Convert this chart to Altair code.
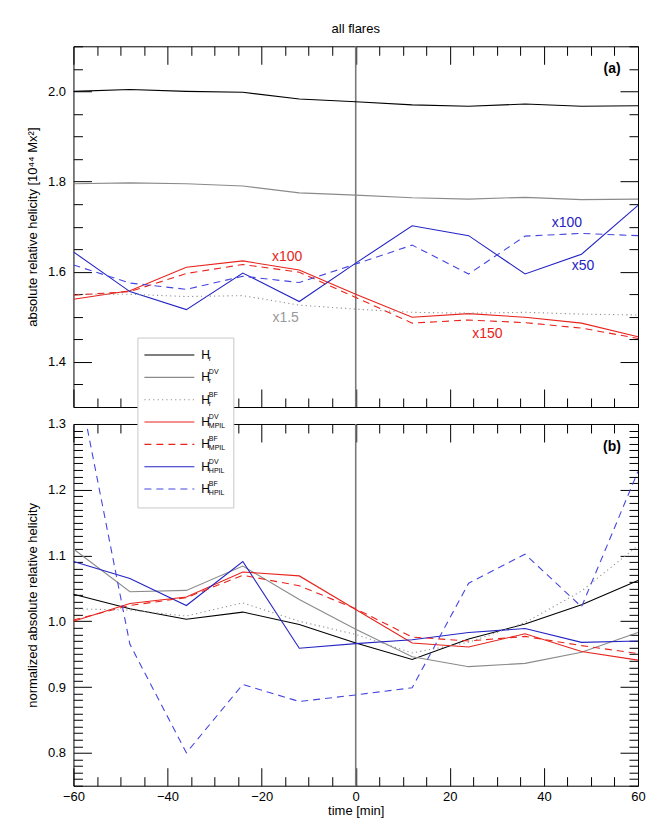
import altair as alt
import pandas as pd

FONT = "Liberation Sans"

# ---------------- data ----------------
time = [-60, -48, -36, -24, -12, 0, 12, 24, 36, 48, 60]

# panel (a): absolute relative helicity [1e44 Mx^2] (some series scaled as annotated)
a_hr      = [2.000, 2.004, 2.000, 1.998, 1.983, 1.977, 1.970, 1.967, 1.972, 1.967, 1.968]
a_hr_dv   = [1.795, 1.797, 1.795, 1.790, 1.775, 1.770, 1.764, 1.761, 1.765, 1.760, 1.761]
a_hr_bf   = [1.550, 1.550, 1.545, 1.547, 1.526, 1.517, 1.510, 1.508, 1.510, 1.506, 1.504]
a_mpil_dv = [1.539, 1.558, 1.610, 1.624, 1.604, 1.550, 1.499, 1.507, 1.499, 1.486, 1.456]
a_mpil_bf = [1.548, 1.556, 1.596, 1.616, 1.599, 1.543, 1.486, 1.493, 1.487, 1.475, 1.452]
a_hpil_dv = [1.644, 1.556, 1.516, 1.597, 1.534, 1.619, 1.702, 1.680, 1.595, 1.639, 1.747]
a_hpil_bf = [1.615, 1.575, 1.561, 1.590, 1.576, 1.617, 1.659, 1.595, 1.679, 1.685, 1.680]

# panel (b): normalized absolute relative helicity
b_hr      = [1.041, 1.019, 1.003, 1.014, 0.995, 0.967, 0.942, 0.973, 0.996, 1.025, 1.062]
b_hr_dv   = [1.110, 1.045, 1.047, 1.084, 1.033, 0.988, 0.946, 0.931, 0.936, 0.953, 0.983]
b_hr_bf   = [1.019, 1.017, 1.008, 1.028, 1.000, 0.980, 0.952, 0.968, 0.998, 1.046, 1.115]
b_mpil_dv = [1.000, 1.027, 1.037, 1.075, 1.069, 1.018, 0.967, 0.961, 0.981, 0.954, 0.941]
b_mpil_bf = [1.002, 1.024, 1.036, 1.070, 1.054, 1.019, 0.976, 0.970, 0.977, 0.963, 0.951]
b_hpil_dv = [1.091, 1.065, 1.024, 1.091, 0.959, 0.966, 0.972, 0.983, 0.989, 0.968, 0.970]
b_hpil_bf = [1.400, 0.965, 0.800, 0.904, 0.878, 0.888, 0.899, 1.058, 1.102, 1.022, 1.228]

series_keys = ["hr", "hr_dv", "hr_bf", "mpil_dv", "mpil_bf", "hpil_dv", "hpil_bf"]
legend_sup = ["", "DV", "BF", "DV", "BF", "DV", "BF"]
legend_sub = ["r", "r", "r", "MPIL", "MPIL", "HPIL", "HPIL"]

annot_text = ["x100", "x1.5", "x150", "x100", "x50"]
annot_time = [-14.6, -14.9, 28.0, 44.9, 48.3]
annot_value = [1.632, 1.498, 1.463, 1.708, 1.612]
annot_series = ["mpil_dv", "hr_bf", "mpil_dv", "hpil_bf", "hpil_dv"]

# ---------------- styles ----------------
RED = "#e8231c"
BLUE = "#2424c4"
BLUE_D = "#4646e0"
GRAY = "#8a8a8a"
COLOR = {"hr": "#000000", "hr_dv": GRAY, "hr_bf": "#909090", "mpil_dv": RED,
         "mpil_bf": RED, "hpil_dv": BLUE, "hpil_bf": BLUE_D}
KIND = {"hr": "solid", "hr_dv": "solid", "hr_bf": "dotted", "mpil_dv": "solid",
        "mpil_bf": "dashed", "hpil_dv": "solid", "hpil_bf": "dashed"}
DASH = {"dashed": [7, 5], "dotted": [1.2, 3.2]}
ANNOT_COLOR = {"mpil_dv": RED, "hr_bf": "#999999", "hpil_bf": BLUE, "hpil_dv": BLUE}

W = 565
HA = 361
HB = 362


def long_df(cols):
    rows = []
    for key, vals in zip(series_keys, cols):
        for t, v in zip(time, vals):
            rows.append(dict(t=t, v=v, s=key, c=COLOR[key], k=KIND[key]))
    return pd.DataFrame(rows)


def tick_axis(orient, offset, values, test):
    return alt.Axis(orient=orient, offset=offset, values=values, labels=False,
                    title=None, grid=False, domain=True, domainColor="black",
                    domainWidth=1, ticks=True, tickColor="black", tickWidth=1,
                    tickSize={"condition": {"test": test, "value": 18}, "value": 9})


XTEST = "datum.value % 20 === 0"


def make_panel(df, ydom, ystep, ylabels, ytest, ytitle, H, tag, bottom_labels, extra=None):
    xs = alt.Scale(domain=[-60, 60], nice=False, zero=False)
    ys = alt.Scale(domain=ydom, nice=False, zero=False)
    xticks = list(range(-60, 61, 5))
    n = int(round((ydom[1] - ydom[0]) / ystep))
    yticks = [round(ydom[0] + i * ystep, 4) for i in range(n + 1)]

    if bottom_labels:
        x_lab = alt.Axis(orient="bottom", values=list(range(-60, 61, 20)), format="d",
                         ticks=False, tickSize=0, domain=False, grid=False,
                         labelFlush=False, labelOverlap=False, labelPadding=5,
                         labelFontSize=13, title="time [min]", titleFontSize=13,
                         titleFontWeight="normal", titlePadding=1)
    else:
        x_lab = None
    y_lab = alt.Axis(orient="left", values=ylabels, format=".1f", ticks=False,
                     tickSize=0, domain=False, grid=False, labelPadding=8,
                     labelFontSize=13, labelOverlap=False, title=ytitle,
                     titleFontSize=13, titleFontWeight="normal", titlePadding=8)

    base = alt.Chart(df)
    color = alt.Color("c:N", scale=None)

    rule0 = alt.Chart(pd.DataFrame({"t": [0]})).mark_rule(
        color="#7a7a7a", strokeWidth=1.6).encode(x=alt.X("t:Q", scale=xs, axis=None))

    solid = base.transform_filter("datum.k == 'solid'").mark_line(
        strokeWidth=1.1, clip=True).encode(
        x=alt.X("t:Q", scale=xs, axis=x_lab),
        y=alt.Y("v:Q", scale=ys, axis=y_lab),
        color=color, detail="s:N")
    dashed = base.transform_filter("datum.k == 'dashed'").mark_line(
        strokeWidth=1.1, strokeDash=DASH["dashed"], clip=True).encode(
        x=alt.X("t:Q", scale=xs, axis=tick_axis("top", -H, xticks, XTEST)),
        y=alt.Y("v:Q", scale=ys, axis=tick_axis("right", -W, yticks, ytest)),
        color=color, detail="s:N")
    dotted = base.transform_filter("datum.k == 'dotted'").mark_line(
        strokeWidth=1.1, strokeDash=DASH["dotted"], clip=True).encode(
        x=alt.X("t:Q", scale=xs, axis=tick_axis("bottom", -H, xticks, XTEST)),
        y=alt.Y("v:Q", scale=ys, axis=tick_axis("left", -W, yticks, ytest)),
        color=color, detail="s:N")

    label = alt.Chart(pd.DataFrame({"l": [tag]})).mark_text(
        fontWeight="bold", fontSize=14, align="center", baseline="middle").encode(
        x=alt.value(539), y=alt.value(23), text="l:N")

    layers = [rule0, solid, dashed, dotted, label]
    if extra is not None:
        layers += extra(xs, ys)
    return alt.layer(*layers).resolve_axis(x="independent", y="independent").properties(
        width=W, height=H)


def annotations(xs, ys):
    adf = pd.DataFrame({"t": annot_time, "v": annot_value, "txt": annot_text,
                        "c": [ANNOT_COLOR[s] for s in annot_series]})
    return [alt.Chart(adf).mark_text(fontSize=14, align="center", baseline="middle").encode(
        x=alt.X("t:Q", scale=xs, axis=None), y=alt.Y("v:Q", scale=ys, axis=None),
        text="txt:N", color=alt.Color("c:N", scale=None))]


def legend(xs, ys):
    ldf = pd.DataFrame({"i": list(range(len(series_keys))), "s": series_keys,
                        "sup": legend_sup, "sub": legend_sub,
                        "c": [COLOR[s] for s in series_keys],
                        "k": [KIND[s] for s in series_keys]})
    lb = alt.Chart(ldf).transform_calculate(py="-69 + datum.i * 22.35")
    box = alt.Chart(pd.DataFrame({"a": [0]})).mark_rect(
        fill="white", stroke="#c8c8c8", strokeWidth=1).encode(
        x=alt.value(64.5), x2=alt.value(160.5), y=alt.value(-86), y2=alt.value(84))
    out = [box]
    for kind in ["solid", "dashed", "dotted"]:
        kw = {} if kind == "solid" else {"strokeDash": DASH[kind]}
        out.append(lb.transform_filter(f"datum.k == '{kind}'").mark_rule(
            strokeWidth=1.1, **kw).encode(
            x=alt.value(71), x2=alt.value(121),
            y=alt.Y("py:Q", scale=None, axis=None),
            color=alt.Color("c:N", scale=None)))
    out.append(lb.mark_text(fontSize=12, align="left", baseline="middle", color="black").encode(
        x=alt.value(128), y=alt.Y("py:Q", scale=None, axis=None), text=alt.value("H")))
    out.append(lb.mark_text(fontSize=7, align="left", baseline="middle", dy=-5,
                            color="black").encode(
        x=alt.value(135.5), y=alt.Y("py:Q", scale=None, axis=None), text="sup:N"))
    out.append(lb.mark_text(fontSize=7, align="left", baseline="middle", dy=4,
                            color="black").encode(
        x=alt.value(135.5), y=alt.Y("py:Q", scale=None, axis=None), text="sub:N"))
    return out


df_a = long_df([a_hr, a_hr_dv, a_hr_bf, a_mpil_dv, a_mpil_bf, a_hpil_dv, a_hpil_bf])
df_b = long_df([b_hr, b_hr_dv, b_hr_bf, b_mpil_dv, b_mpil_bf, b_hpil_dv, b_hpil_bf])

panel_a = make_panel(df_a, [1.3, 2.1], 0.05, [1.4, 1.6, 1.8, 2.0],
                     "abs(datum.value*5 - round(datum.value*5)) < 1e-6",
                     "absolute relative helicity [10⁴⁴ Mx²]", HA, "(a)", False,
                     extra=annotations).properties(
    title=alt.TitleParams("all flares", anchor="middle", frame="group",
                          fontSize=13, fontWeight="normal", offset=9.5))

panel_b = make_panel(df_b, [0.75, 1.3], 0.01, [0.8, 0.9, 1.0, 1.1, 1.2, 1.3],
                     "abs(datum.value*10 - round(datum.value*10)) < 1e-6",
                     "normalized absolute relative helicity", HB, "(b)", True,
                     extra=legend)

chart = alt.vconcat(panel_a, panel_b, spacing=17, bounds="flush").properties(
    padding={"left": 17.5, "top": 14, "right": 0, "bottom": 0}
).configure_view(stroke=None).configure_axis(
    labelFont=FONT, titleFont=FONT, labelColor="black", titleColor="black", grid=False
).configure_text(font=FONT).configure_title(font=FONT, color="black")

chart.save("out.html", embed_options={"renderer": "svg", "actions": False})
